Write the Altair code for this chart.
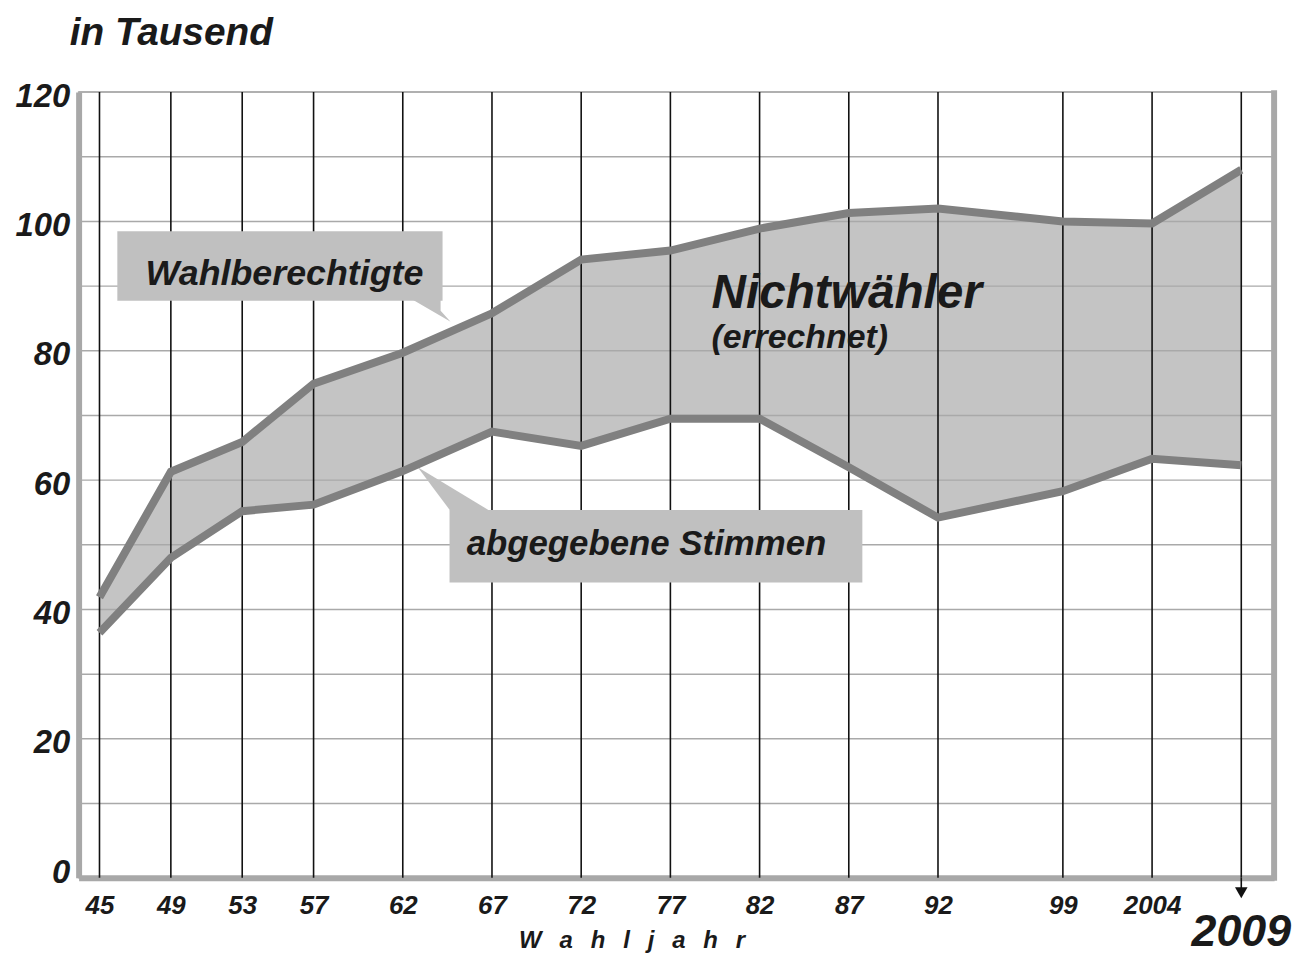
import altair as alt
import pandas as pd

# ---------------- data ----------------
years = [1945, 1949, 1953, 1957, 1962, 1967, 1972, 1977, 1982, 1987, 1992, 1999, 2004, 2009]
wahlberechtigte = [41.9, 61.3, 65.9, 74.9, 79.7, 85.8, 94.1, 95.5, 98.9, 101.3, 102.0, 100.0, 99.7, 108.0]
abgegebene = [36.4, 48.0, 55.2, 56.2, 61.4, 67.5, 65.3, 69.5, 69.5, 62.0, 54.2, 58.3, 63.3, 62.3]
y_label_values = [0, 20, 40, 60, 80, 100, 120]
grid_values = [10, 20, 30, 40, 50, 60, 70, 80, 90, 100, 110, 120]
x_label_years = years[:-1]

FONT = "Liberation Sans"
INK = "#1a1a1a"
W, H = 1202, 790
SP = "\u2002\u2005"

x_scale = alt.Scale(domain=[1943.83, 2010.84], nice=False, zero=False)
y_scale = alt.Scale(domain=[-1.5, 120], nice=False, zero=False)

df = pd.DataFrame({"Jahr": years, "Wahlberechtigte": wahlberechtigte, "Abgegeben": abgegebene})

x_axis = alt.Axis(
    values=x_label_years,
    labelExpr="datum.value >= 2000 ? '' + datum.value : substring('' + datum.value, 2)",
    title=SP.join("Wahljahr"),
    titleX=556, titleY=70, titleAlign="center", titleBaseline="alphabetic",
    titleFont=FONT, titleFontSize=24, titleFontStyle="italic", titleFontWeight="bold", titleColor=INK,
    domainColor="#a8a8a8", domainWidth=6, ticks=False, tickSize=0, grid=False,
    labelPadding=15, labelFont=FONT, labelFontSize=26, labelFontStyle="italic",
    labelFontWeight="bold", labelColor=INK, labelFlush=False, labelOverlap=False,
)
y_axis = alt.Axis(
    values=y_label_values, title=None,
    domainColor="#a8a8a8", domainWidth=6, ticks=False, tickSize=0, grid=False,
    labelPadding=9, labelFont=FONT, labelFontSize=33, labelFontStyle="italic",
    labelFontWeight="bold", labelColor=INK, labelBaseline="middle", labelOffset=4,
)


def X(field):
    return alt.X(field, scale=x_scale, axis=x_axis)


def Y(field):
    return alt.Y(field, scale=y_scale, axis=y_axis)


area = alt.Chart(df).mark_area(color="#c4c4c4").encode(
    x=X("Jahr:Q"), y=Y("Abgegeben:Q"), y2="Wahlberechtigte:Q",
)

grid = alt.Chart(pd.DataFrame({"v": grid_values})).mark_rule(color="#a9a9a9", strokeWidth=1.5).encode(
    y=Y("v:Q"), x=alt.value(0), x2=alt.value(W)
)

vlines = alt.Chart(df).mark_rule(color="#111111", strokeWidth=1.6).encode(
    x=X("Jahr:Q"), y=alt.value(0), y2=alt.value(H)
)

last = df[df["Jahr"] == years[-1]]
arrow_stem = alt.Chart(last).mark_rule(color="#111111", strokeWidth=1.6).encode(
    x=X("Jahr:Q"), y=alt.value(H), y2=alt.value(H + 12)
)
arrow_head = alt.Chart(last).mark_point(shape="triangle-down", filled=True, color="#111111", opacity=1, size=160).encode(
    x=X("Jahr:Q"), y=alt.value(H + 15)
)

right_border = alt.Chart(pd.DataFrame({"a": [0]})).mark_rule(color="#a8a8a8", strokeWidth=6).encode(
    x=alt.value(W), y=alt.value(-2), y2=alt.value(H + 3)
)

# callout boxes (data coordinates)
box_df = pd.DataFrame({
    "x1": [1946.0, 1964.62], "x2": [1964.23, 1987.76],
    "y1": [98.48, 55.40], "y2": [87.73, 44.18],
})
boxes = alt.Chart(box_df).mark_rect(color="#c0c0c0").encode(
    x=X("x1:Q"), x2="x2:Q", y=Y("y1:Q"), y2="y2:Q",
)

ptr_df = pd.DataFrame({
    "id": ["w", "w", "w", "a", "a"],
    "y": [87.9, 86.19, 84.5, 62.0, 55.2],
    "xl": [1962.56, 1963.62, 1964.68, 1962.84, 1964.68],
    "xr": [1964.12, 1964.12, 1964.68, 1962.84, 1966.91],
})
pointers = alt.Chart(ptr_df).mark_area(orient="horizontal", color="#c0c0c0").encode(
    y=Y("y:Q"), x=X("xl:Q"), x2="xr:Q", detail="id:N",
)

lines_df = pd.concat([
    pd.DataFrame({"Jahr": years, "v": wahlberechtigte, "s": "Wahlberechtigte"}),
    pd.DataFrame({"Jahr": years, "v": abgegebene, "s": "abgegebene Stimmen"}),
])
lines = alt.Chart(lines_df).mark_line(color="#808080", strokeWidth=8, strokeJoin="miter").encode(
    x=X("Jahr:Q"), y=Y("v:Q"), detail="s:N",
)


def label(text, x, y, size, align="center"):
    return alt.Chart(pd.DataFrame({"t": [text], "x": [x], "y": [y]})).mark_text(
        font=FONT, fontSize=size, fontStyle="italic", fontWeight="bold", color=INK,
        align=align, baseline="alphabetic",
    ).encode(x=X("x:Q"), y=Y("y:Q"), text="t:N")


t_wahl = label("Wahlberechtigte", 1955.37, 90.24, 36)
t_abg = label("abgegebene Stimmen", 1975.66, 48.49, 35)
t_nicht = label("Nichtwähler", 1979.3, 86.63, 48, align="left")
t_err = label("(errechnet)", 1979.3, 80.48, 34, align="left")

t_title = alt.Chart(pd.DataFrame({"t": ["in Tausend"]})).mark_text(
    font=FONT, fontSize=39, fontStyle="italic", fontWeight="bold", color=INK,
    align="left", baseline="alphabetic",
).encode(x=alt.value(-9), y=alt.value(-47), text="t:N")

t_2009 = alt.Chart(last).mark_text(
    font=FONT, fontSize=45, fontStyle="italic", fontWeight="bold", color=INK,
    align="center", baseline="alphabetic",
).encode(x=X("Jahr:Q"), y=alt.value(H + 69), text=alt.Text("Jahr:Q", format="d"))

chart = alt.layer(
    area, grid, vlines, arrow_stem, arrow_head, boxes, pointers, lines, right_border,
    t_wahl, t_abg, t_nicht, t_err, t_title, t_2009,
).properties(
    width=W, height=H,
    autosize=alt.AutoSizeParams(type="none"),
    padding={"left": 71, "top": 82, "right": 20, "bottom": 74},
    background="white",
).configure_view(stroke="#b4b4b4", strokeWidth=1.5)

chart.save("out.html", embed_options={"renderer": "svg", "actions": False})
